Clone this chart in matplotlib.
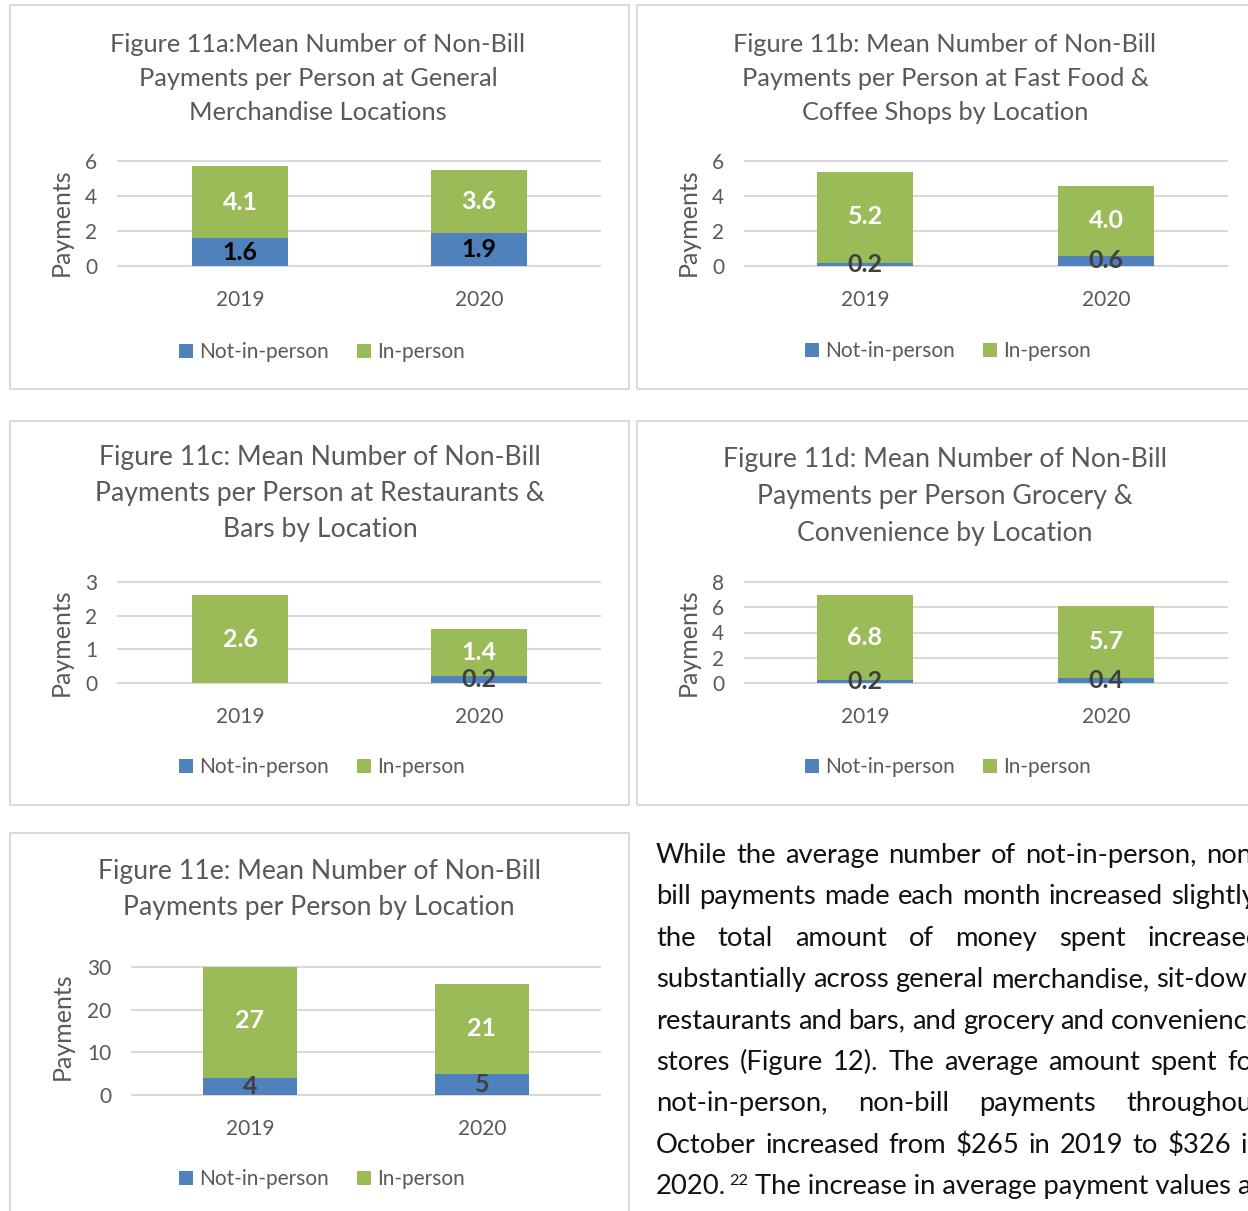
import numpy as np
import matplotlib
matplotlib.use('Agg')
import matplotlib.pyplot as plt
from matplotlib.patches import Rectangle

# data
years = ['2019', '2020']
series_names = ['Not-in-person', 'In-person']

a_not = [1.6, 1.9]
a_in = [4.1, 3.6]
b_not = [0.2, 0.6]
b_in = [5.2, 4.0]
c_not = [np.nan, 0.2]   # no not-in-person bar for 2019
c_in = [2.6, 1.4]
d_not = [0.2, 0.4]
d_in = [6.8, 5.7]
e_not = [4, 5]
e_in = [27, 21]

a_ticks = [0, 2, 4, 6]
b_ticks = [0, 2, 4, 6]
c_ticks = [0, 1, 2, 3]
d_ticks = [0, 2, 4, 6, 8]
e_ticks = [0, 10, 20, 30]

a_title = ['Figure 11a:Mean Number of Non-Bill', 'Payments per Person at General', 'Merchandise Locations']
b_title = ['Figure 11b: Mean Number of Non-Bill', 'Payments per Person at Fast Food &', 'Coffee Shops by Location']
c_title = ['Figure 11c: Mean Number of Non-Bill', 'Payments per Person at Restaurants &', 'Bars by Location']
d_title = ['Figure 11d: Mean Number of Non-Bill', 'Payments per Person Grocery &', 'Convenience by Location']
e_title = ['Figure 11e: Mean Number of Non-Bill', 'Payments per Person by Location']

para_lines = [
    'While the average number of not-in-person, non-',
    'bill payments made each month increased slightly,',
    'the total amount of money spent increased',
    'substantially across general merchandise, sit-down',
    'restaurants and bars, and grocery and convenience',
    'stores (Figure 12). The average amount spent for',
    'not-in-person, non-bill payments throughout',
    'October increased from $265 in 2019 to $326 in',
]
para_last = ['2020.', '22', ' The increase in average payment values across']

W, H = 1248, 1211
plt.rcParams['font.family'] = ['Lato', 'DejaVu Sans']

BLUE = '#4F81BD'
GREEN = '#9BBB59'
GRAY = '#595959'
DARK = '#404040'
GRID = '#D9D9D9'


def fx(x):
    return x / W


def fy(y):
    return 1 - y / H


fig = plt.figure(figsize=(W / 100, H / 100), dpi=100)

# layout in pixels of the reference
panels = [
    dict(box=(10, 5, 629, 389), ax=(118, 161, 600, 266), cx=(240, 479), bw=96,
         nv=a_not, iv=a_in, ticks=a_ticks, title=a_title, tsize=18.3, ty=[45, 79, 113], tx=318,
         yl=(61, 222), leg=(324, 352), fmt='%.1f', ncol='black'),
    dict(box=(637, 5, 1262, 389), ax=(745, 161, 1227, 266), cx=(865, 1106), bw=96,
         nv=b_not, iv=b_in, ticks=b_ticks, title=b_title, tsize=18.3, ty=[45, 79, 113], tx=945,
         yl=(688, 222), leg=(950, 351), fmt='%.1f', ncol=DARK),
    dict(box=(10, 421, 629, 805), ax=(118, 582, 600, 683), cx=(240, 479), bw=96,
         nv=c_not, iv=c_in, ticks=c_ticks, title=c_title, tsize=19.2, ty=[457, 494, 530], tx=320,
         yl=(61, 642), leg=(324, 767), fmt='%.1f', ncol=DARK),
    dict(box=(637, 421, 1262, 805), ax=(745, 582, 1227, 683), cx=(865, 1106), bw=96,
         nv=d_not, iv=d_in, ticks=d_ticks, title=d_title, tsize=19.2, ty=[460, 496, 533], tx=945,
         yl=(688, 642), leg=(950, 767), fmt='%.1f', ncol=DARK),
    dict(box=(10, 833, 629, 1240), ax=(132, 967, 600, 1095), cx=(250, 482), bw=94,
         nv=e_not, iv=e_in, ticks=e_ticks, title=e_title, tsize=19.2, ty=[872, 908], tx=319,
         yl=(62, 1026), leg=(324, 1179), fmt='%.0f', ncol=DARK),
]

for p in panels:
    x0, y0, x1, y1 = p['box']
    fig.add_artist(Rectangle((fx(x0), fy(y1)), (x1 - x0) / W, (y1 - y0) / H,
                             transform=fig.transFigure, fill=False, ec='#D9D9D9', lw=1.4))

    L, T, R, B = p['ax']
    ax = fig.add_axes([fx(L), fy(B), (R - L) / W, (B - T) / H])
    c0, c1 = p['cx']
    unit = c1 - c0
    ax.set_xlim((L - c0) / unit, (R - c0) / unit)
    x = np.arange(len(years))
    nv = np.array(p['nv'], dtype=float)
    iv = np.array(p['iv'], dtype=float)
    base = np.nan_to_num(nv)
    bw = p['bw'] / unit
    b1 = ax.bar(x, base, width=bw, color=BLUE, label=series_names[0], zorder=2)
    b2 = ax.bar(x, iv, bottom=base, width=bw, color=GREEN, label=series_names[1], zorder=2)

    for i in range(len(years)):
        if not np.isnan(nv[i]):
            ax.text(x[i], nv[i] / 2, p['fmt'] % nv[i], ha='center', va='center',
                    fontsize=18, fontweight='bold', color=p['ncol'], zorder=3)
        ax.text(x[i], base[i] + iv[i] / 2, p['fmt'] % iv[i], ha='center', va='center',
                fontsize=18, fontweight='bold', color='white', zorder=3)

    ax.set_ylim(0, p['ticks'][-1])
    ax.set_yticks(p['ticks'])
    ax.set_xticks(x)
    ax.set_xticklabels(years)
    ax.grid(axis='y', color=GRID, lw=1.5, zorder=0)
    ax.set_axisbelow(True)
    for s in ax.spines.values():
        s.set_visible(False)
    ax.tick_params(axis='both', length=0, labelsize=15, labelcolor=GRAY)
    ax.tick_params(axis='y', pad=15)
    ax.tick_params(axis='x', pad=17)
    for gl in ax.get_ygridlines():
        gl.set_clip_on(False)

    for line, yy in zip(p['title'], p['ty']):
        fig.text(fx(p['tx']), fy(yy), line, ha='center', va='center',
                 fontsize=p['tsize'], color=GRAY)

    fig.text(fx(p['yl'][0]), fy(p['yl'][1]), 'Payments', rotation=90,
             ha='center', va='center', fontsize=18, color=GRAY)

    ax.legend(handles=[b1, b2], loc='center', bbox_to_anchor=(fx(p['leg'][0] - 2), fy(p['leg'][1])),
              bbox_transform=fig.transFigure, ncol=2, frameon=False, fontsize=15,
              handlelength=0.68, handleheight=0.68, handletextpad=0.3, columnspacing=1.35,
              labelcolor=GRAY, borderpad=0)

# paragraph text, justified like the source document
renderer = fig.canvas.get_renderer()


def text_width(s, size):
    t = fig.text(0, 0, s, fontsize=size)
    w = t.get_window_extent(renderer).width
    t.remove()
    return w


left, right = 656, 1262
fs = 18 * (right - left) / text_width(para_lines[3], 18)
base_y = 863
step = 41.4
for k, line in enumerate(para_lines):
    words = line.split(' ')
    widths = [text_width(w, fs) for w in words]
    gap = (right - left - sum(widths)) / (len(words) - 1)
    xx = left
    for w, wd in zip(words, widths):
        fig.text(fx(xx), fy(base_y + k * step), w, ha='left', va='baseline', fontsize=fs, color='#111111')
        xx += wd + gap

yy = base_y + len(para_lines) * step
xx = left
fig.text(fx(xx), fy(yy), para_last[0], ha='left', va='baseline', fontsize=fs, color='#111111')
xx += text_width(para_last[0], fs) + 3
fig.text(fx(xx), fy(yy - 9), para_last[1], ha='left', va='baseline', fontsize=fs * 0.6, color='#111111')
xx += text_width(para_last[1], fs * 0.6)
fig.text(fx(xx), fy(yy), para_last[2], ha='left', va='baseline', fontsize=fs, color='#111111')

fig.savefig('out.png', dpi=100)
